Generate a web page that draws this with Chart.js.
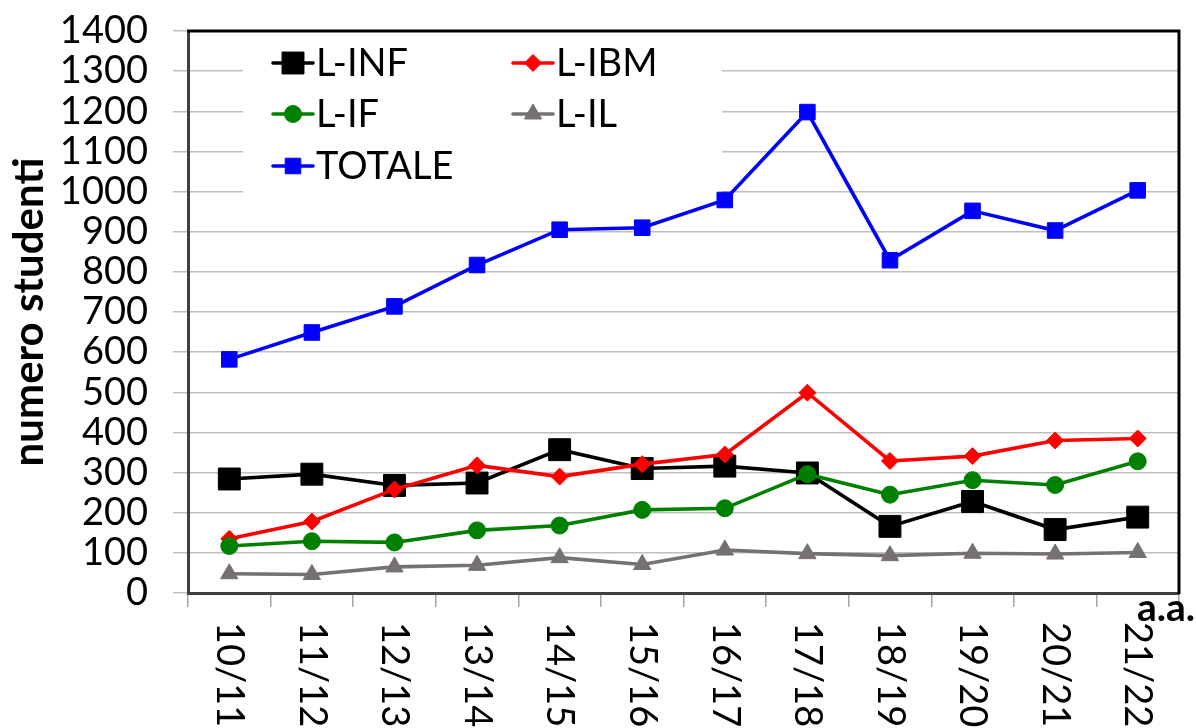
<!DOCTYPE html>
<html>
<head>
<meta charset="utf-8">
<script src="https://cdn.jsdelivr.net/npm/chart.js@4"></script>
<style>
html,body{margin:0;padding:0;background:#fff;}
#wrap{width:1196px;height:728px;position:relative;}
</style>
</head>
<body>
<div id="wrap"><canvas id="c" width="1196" height="728"></canvas></div>
<script>
const categories = ['10/11','11/12','12/13','13/14','14/15','15/16','16/17','17/18','18/19','19/20','20/21','21/22'];
const L_INF  = [284, 296, 268, 274, 357, 310, 316, 299, 166, 228, 158, 189];
const L_IBM  = [135, 178, 258, 318, 290, 321, 345, 499, 329, 341, 380, 385];
const L_IF   = [117, 129, 126, 156, 168, 207, 211, 296, 245, 281, 269, 328];
const L_IL   = [48, 46, 65, 69, 88, 71, 107, 98, 93, 99, 97, 101];
const TOTALE = [582, 649, 714, 817, 905, 910, 979, 1198, 829, 952, 903, 1003];
const yTicks = [0,100,200,300,400,500,600,700,800,900,1000,1100,1200,1300,1400];
const yTitle = 'numero studenti';
const xTitle = 'a.a.';

const FONT = 'Lato';

function ds(label, data, color, style, r, order){
  return {label, data, borderColor: color, backgroundColor: color,
    pointBackgroundColor: color, pointBorderColor: color,
    pointStyle: style, pointRadius: r, pointHoverRadius: r, pointBorderWidth: 1,
    borderWidth: 3.6, tension: 0, order};
}

const datasets = [
  ds('L-INF', L_INF, '#000000', 'rect', 15.5, 5),
  ds('L-IBM', L_IBM, '#ff0000', 'rectRot', 8.5, 4),
  ds('L-IF', L_IF, '#008000', 'circle', 8.5, 3),
  ds('L-IL', L_IL, '#767171', 'triangle', 10, 2),
  ds('TOTALE', TOTALE, '#0000ff', 'rect', 11, 1)
];

const legendLayout = [
  {i:0, col:0, row:0},{i:1, col:1, row:0},
  {i:2, col:0, row:1},{i:3, col:1, row:1},
  {i:4, col:0, row:2}
];

const custom = {
  id: 'custom',
  beforeDatasetsDraw(chart){
    const {ctx} = chart;
    ctx.save();
    ctx.fillStyle = '#fff';
    ctx.fillRect(243, 37, 479, 168);
    ctx.restore();
  },
  afterDraw(chart){
    const {ctx, chartArea:a, scales:{x}} = chart;
    ctx.save();
    ctx.strokeStyle = '#000'; ctx.lineWidth = 3;
    ctx.beginPath();
    ctx.moveTo(a.left-1, a.top); ctx.lineTo(a.right, a.top); ctx.lineTo(a.right, a.bottom+1);
    ctx.stroke();
    ctx.fillStyle = '#000';
    ctx.font = '38px ' + FONT;
    ctx.textAlign = 'left'; ctx.textBaseline = 'middle';
    categories.forEach((c, i) => {
      const px = x.getPixelForTick(i);
      ctx.save(); ctx.translate(px, a.bottom + 29); ctx.rotate(Math.PI/2);
      ctx.fillText(c, 0, 0); ctx.restore();
    });
    ctx.save();
    ctx.font = 'bold 42px ' + FONT;
    ctx.textAlign = 'center'; ctx.textBaseline = 'alphabetic';
    ctx.translate(43, (a.top + a.bottom)/2); ctx.rotate(-Math.PI/2);
    ctx.fillText(yTitle, 0, 0);
    ctx.restore();
    ctx.font = 'bold 39px ' + FONT;
    ctx.textAlign = 'right'; ctx.textBaseline = 'alphabetic';
    ctx.fillText(xTitle, 1195, 621);
    const colX = [273, 513];
    const rowY = [63, 114, 166];
    legendLayout.forEach(it => {
      const d = chart.data.datasets[it.i];
      const x0 = colX[it.col], y0 = rowY[it.row];
      ctx.strokeStyle = d.borderColor; ctx.lineWidth = 3.6; ctx.lineCap = 'round';
      ctx.beginPath(); ctx.moveTo(x0, y0); ctx.lineTo(x0 + 40, y0); ctx.stroke();
      ctx.lineCap = 'butt';
      ctx.fillStyle = d.pointBackgroundColor; ctx.strokeStyle = d.pointBorderColor; ctx.lineWidth = 1;
      Chart.helpers.drawPoint(ctx, {pointStyle: d.pointStyle, radius: d.pointRadius, rotation: 0, borderWidth: 1}, x0 + 20, y0);
      ctx.fillStyle = '#000';
      ctx.font = '38px ' + FONT;
      ctx.textAlign = 'left'; ctx.textBaseline = 'alphabetic';
      ctx.fillText(d.label, x0 + 43, y0 + 13);
    });
    ctx.restore();
  }
};

new Chart(document.getElementById('c'), {
  type: 'line',
  data: {labels: categories, datasets},
  options: {
    responsive: false, animation: false,
    layout: {padding: {left: 0, top: 31, right: 17, bottom: 0}},
    plugins: {legend: {display: false}, tooltip: {enabled: false}},
    scales: {
      x: {
        type: 'category', offset: true,
        grid: {offset: true, drawOnChartArea: false, tickLength: 14, color: '#a6a6a6', lineWidth: 1.5},
        border: {color: '#404040', width: 3},
        ticks: {display: false},
        afterFit(s){ s.height = 135; s.paddingLeft = 0; s.paddingRight = 0; }
      },
      y: {
        min: 0, max: 1400,
        afterBuildTicks(s){ s.ticks = yTicks.map(v => ({value: v})); },
        grid: {color: '#bfbfbf', lineWidth: 1.5, tickLength: 15},
        border: {color: '#404040', width: 3},
        ticks: {color: '#000', font: {family: FONT, size: 38}, padding: 25, autoSkip: false,
                callback: v => String(v)},
        afterFit(s){ s.width = 188; s.paddingTop = 0; s.paddingBottom = 0; }
      }
    }
  },
  plugins: [custom]
});
</script>
</body>
</html>
